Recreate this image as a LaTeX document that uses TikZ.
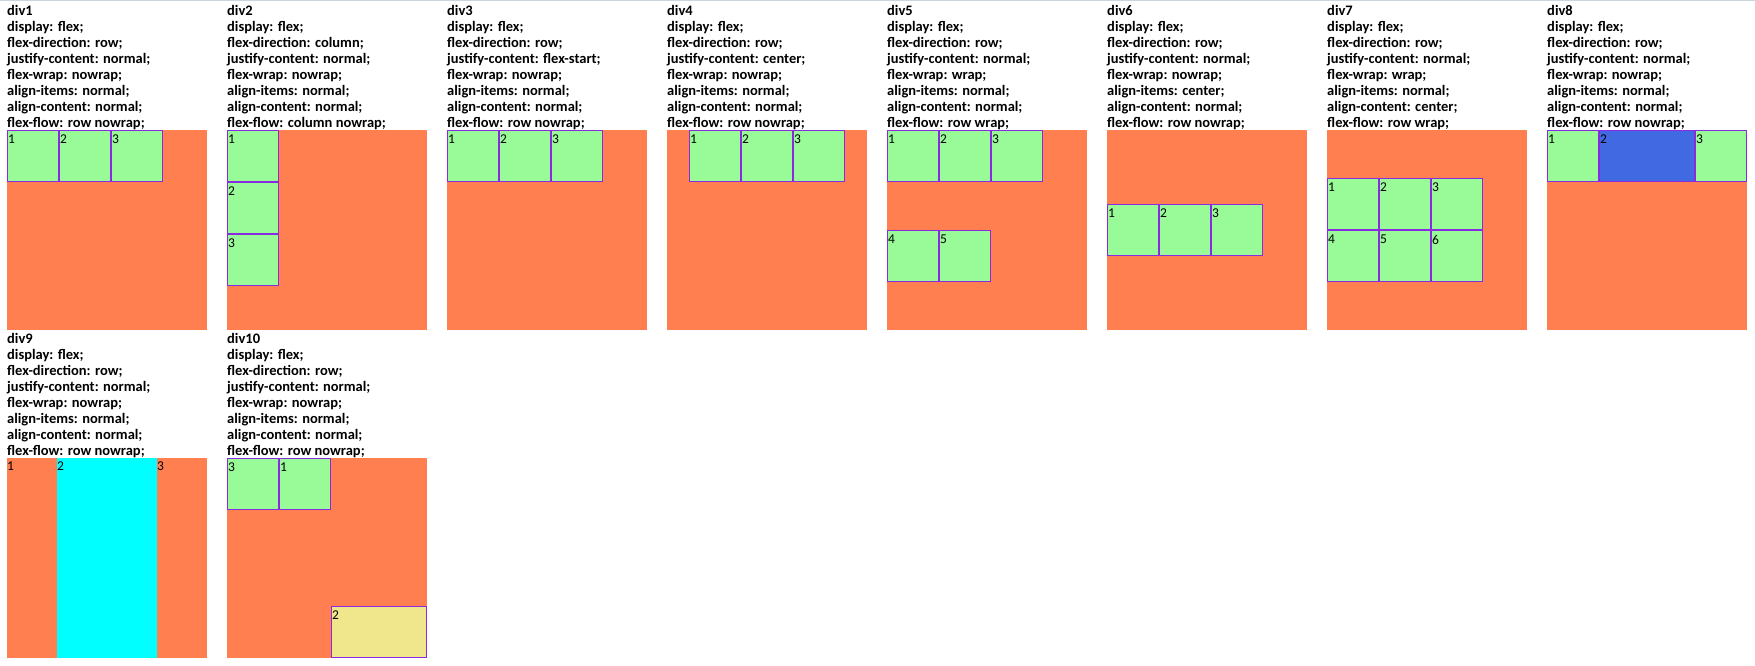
\documentclass[tikz,border=0pt]{standalone}
\usepackage{fontspec}
\setmainfont{Carlito}
\usetikzlibrary{positioning}
\definecolor{coral}{HTML}{FF7F50}
\definecolor{palegreen}{HTML}{98FB98}
\definecolor{blueviolet}{HTML}{8A2BE2}
\definecolor{royalblue}{HTML}{4169E1}
\definecolor{aqua}{HTML}{00FFFF}
\definecolor{khaki}{HTML}{F0E68C}
\definecolor{windowedge}{HTML}{C7D7DB}
\tikzset{
	% ------- every something
	every picture/.style={
		x=1pt, y=-1pt,
	},
	% ------- custom
	prop/.style={
		font=\bfseries\fontsize{14.5}{16}\selectfont,
		anchor=base west, inner sep=0pt,
	},
	container/.style={
		fill=coral, anchor=north west,
		minimum width=200pt, minimum height=200pt,
		inner sep=0pt, outer sep=0pt,
	},
	item/.style={
		fill=palegreen, draw=blueviolet, line width=1pt,
		anchor=north west,
		minimum width=51pt, minimum height=51pt, inner sep=0pt,
	},
	bare item/.style={
		anchor=north west,
		minimum height=200pt, inner sep=0pt, outer sep=0pt,
	},
	num/.style={
		anchor=north west, inner sep=0pt,
		font=\fontsize{13.5}{14}\selectfont,
	},
	numbered/.style={
		label={[num, xshift=1pt, yshift=-5pt]north west:#1},
	},
	numbered bare/.style={
		label={[num, yshift=-4pt]north west:#1},
	},
}
% the eight property lines above each box
\newcommand\flexprops[9]{%
	\foreach \txt [count=\i from 0] in {#1, display: flex;, flex-direction: #4;,
		justify-content: #5;, flex-wrap: #6;, align-items: #7;,
		align-content: #8;, flex-flow: #9;}
	{\node[prop] (#1-\i) at (#2, {#3+16*\i}) {\txt};}%
}

\begin{document}
\begin{tikzpicture}

% canvas %{{{1

	\fill[white] (0,0) rectangle (1755,665);
	\useasboundingbox (0,0) rectangle (1755,665);
	\draw[windowedge, line width=1pt] (0,0.5) -- (1755,0.5);

% div1 %{{{1

	\flexprops{div1}{7}{15}{row}{normal}{nowrap}{normal}{normal}{row nowrap}
	\node[container] (d1) at (7,130) {};
	\node[item, numbered=1] (d1a) at (d1.north west) {};
	\node[item, numbered=2, right=0pt of d1a] (d1b) {};
	\node[item, numbered=3, right=0pt of d1b] (d1c) {};

% div2 %{{{1

	\flexprops{div2}{227}{15}{column}{normal}{nowrap}{normal}{normal}{column nowrap}
	\node[container] (d2) at (227,130) {};
	\node[item, numbered=1] (d2a) at (d2.north west) {};
	\node[item, numbered=2, below=0pt of d2a] (d2b) {};
	\node[item, numbered=3, below=0pt of d2b] (d2c) {};

% div3 %{{{1

	\flexprops{div3}{447}{15}{row}{flex-start}{nowrap}{normal}{normal}{row nowrap}
	\node[container] (d3) at (447,130) {};
	\node[item, numbered=1] (d3a) at (d3.north west) {};
	\node[item, numbered=2, right=0pt of d3a] (d3b) {};
	\node[item, numbered=3, right=0pt of d3b] (d3c) {};

% div4 %{{{1

	\flexprops{div4}{667}{15}{row}{center}{nowrap}{normal}{normal}{row nowrap}
	\node[container] (d4) at (667,130) {};
	\node[item, numbered=2, anchor=north] (d4b) at (d4.north) {};
	\node[item, numbered=1, left=0pt of d4b] (d4a) {};
	\node[item, numbered=3, right=0pt of d4b] (d4c) {};

% div5 %{{{1

	\flexprops{div5}{887}{15}{row}{normal}{wrap}{normal}{normal}{row wrap}
	\node[container] (d5) at (887,130) {};
	\node[item, numbered=1] (d5a) at (d5.north west) {};
	\node[item, numbered=2, right=0pt of d5a] (d5b) {};
	\node[item, numbered=3, right=0pt of d5b] (d5c) {};
	\node[item, numbered=4, below=48pt of d5a] (d5d) {};
	\node[item, numbered=5, right=0pt of d5d] (d5e) {};

% div6 %{{{1

	\flexprops{div6}{1107}{15}{row}{normal}{nowrap}{center}{normal}{row nowrap}
	\node[container] (d6) at (1107,130) {};
	\node[item, numbered=1, anchor=west] (d6a) at (d6.west) {};
	\node[item, numbered=2, right=0pt of d6a] (d6b) {};
	\node[item, numbered=3, right=0pt of d6b] (d6c) {};

% div7 %{{{1

	\flexprops{div7}{1327}{15}{row}{normal}{wrap}{normal}{center}{row wrap}
	\node[container] (d7) at (1327,130) {};
	\node[item, numbered=1, anchor=south west] (d7a) at (d7.west) {};
	\node[item, numbered=2, right=0pt of d7a] (d7b) {};
	\node[item, numbered=3, right=0pt of d7b] (d7c) {};
	\node[item, numbered=4, below=0pt of d7a] (d7d) {};
	\node[item, numbered=5, right=0pt of d7d] (d7e) {};
	\node[item, numbered=6, right=0pt of d7e] (d7f) {};

% div8 %{{{1

	\flexprops{div8}{1547}{15}{row}{normal}{nowrap}{normal}{normal}{row nowrap}
	\node[container] (d8) at (1547,130) {};
	\node[item, numbered=1] (d8a) at (d8.north west) {};
	\node[item, numbered=2, fill=royalblue, minimum width=95pt, right=0pt of d8a] (d8b) {};
	\node[item, numbered=3, right=0pt of d8b] (d8c) {};

% div9 %{{{1

	\flexprops{div9}{7}{343}{row}{normal}{nowrap}{normal}{normal}{row nowrap}
	\node[container] (d9) at (7,458) {};
	\node[bare item, numbered bare=1, minimum width=50pt] (d9a) at (d9.north west) {};
	\node[bare item, numbered bare=2, fill=aqua, minimum width=100pt, right=0pt of d9a] (d9b) {};
	\node[bare item, numbered bare=3, minimum width=50pt, right=0pt of d9b] (d9c) {};

% div10 %{{{1

	\flexprops{div10}{227}{343}{row}{normal}{nowrap}{normal}{normal}{row nowrap}
	\node[container] (d10) at (227,458) {};
	\node[item, numbered=3] (d10a) at (d10.north west) {};
	\node[item, numbered=1, right=0pt of d10a] (d10b) {};
	\node[item, numbered=2, fill=khaki, minimum width=95pt, anchor=south west]
		(d10c) at (d10b.north east |- d10.south) {};

% closing %{{{1

\end{tikzpicture}
\end{document}
